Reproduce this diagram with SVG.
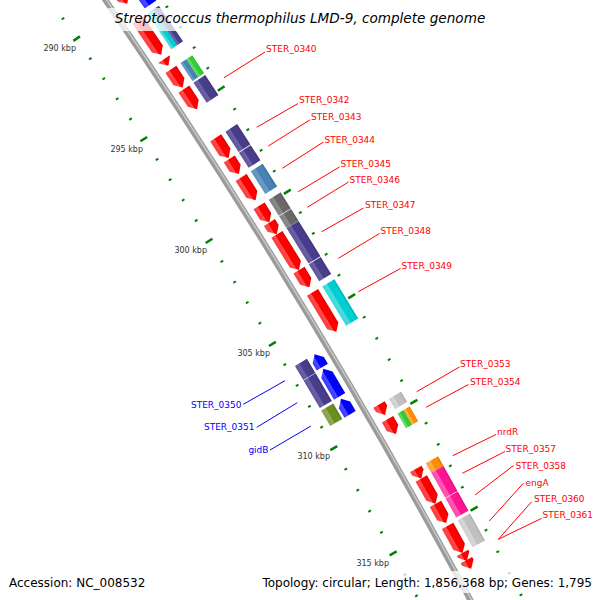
<svg xmlns="http://www.w3.org/2000/svg" xmlns:xlink="http://www.w3.org/1999/xlink" width="600" height="600" viewBox="0 0 600 600">
<style>
.lbl{font-family:"DejaVu Sans",sans-serif;font-size:9px}
.fw{fill:#ff0000}
.rv{fill:#0000ff}
.kbp{font-family:"DejaVu Sans",sans-serif;font-size:8px;fill:#333}
.lnf{stroke:#ff0000;stroke-width:1;fill:none}
.lnr{stroke:#0000ff;stroke-width:1;fill:none}
.tk{stroke:#008000;stroke-width:2;fill:none}
.tkM{stroke:#008000;stroke-width:2.5;fill:none}
.info{font-family:"DejaVu Sans",sans-serif;font-size:12px;fill:#000}
</style>
<defs>
<linearGradient id="gR" x1="0" y1="0" x2="0" y2="1"><stop offset="0" stop-color="#d40000"/><stop offset=".15" stop-color="#f00"/><stop offset=".6" stop-color="#f00"/><stop offset=".66" stop-color="#ff4d4d"/><stop offset="1" stop-color="#ff3838"/></linearGradient>
<linearGradient id="gB" x1="0" y1="0" x2="0" y2="1"><stop offset="0" stop-color="#0000d0"/><stop offset=".15" stop-color="#00f"/><stop offset=".6" stop-color="#00f"/><stop offset=".66" stop-color="#4d4dff"/><stop offset="1" stop-color="#3838ff"/></linearGradient>
<linearGradient id="gP" x1="0" y1="0" x2="0" y2="1"><stop offset="0" stop-color="#3a3172"/><stop offset=".15" stop-color="#483d8b"/><stop offset=".6" stop-color="#483d8b"/><stop offset=".66" stop-color="#6b62a6"/><stop offset="1" stop-color="#5e559c"/></linearGradient>
<linearGradient id="gS" x1="0" y1="0" x2="0" y2="1"><stop offset="0" stop-color="#396a93"/><stop offset=".15" stop-color="#4682b4"/><stop offset=".6" stop-color="#4682b4"/><stop offset=".66" stop-color="#6b9cc5"/><stop offset="1" stop-color="#5e93be"/></linearGradient>
<linearGradient id="gD" x1="0" y1="0" x2="0" y2="1"><stop offset="0" stop-color="#565656"/><stop offset=".15" stop-color="#696969"/><stop offset=".6" stop-color="#696969"/><stop offset=".66" stop-color="#8c8c8c"/><stop offset="1" stop-color="#808080"/></linearGradient>
<linearGradient id="gL" x1="0" y1="0" x2="0" y2="1"><stop offset="0" stop-color="#a6a6a6"/><stop offset=".15" stop-color="#c0c0c0"/><stop offset=".6" stop-color="#c0c0c0"/><stop offset=".66" stop-color="#d6d6d6"/><stop offset="1" stop-color="#cfcfcf"/></linearGradient>
<linearGradient id="gC" x1="0" y1="0" x2="0" y2="1"><stop offset="0" stop-color="#00a9ac"/><stop offset=".15" stop-color="#00ced1"/><stop offset=".6" stop-color="#00ced1"/><stop offset=".66" stop-color="#4ddcde"/><stop offset="1" stop-color="#38d8da"/></linearGradient>
<linearGradient id="gG" x1="0" y1="0" x2="0" y2="1"><stop offset="0" stop-color="#29a829"/><stop offset=".15" stop-color="#32cd32"/><stop offset=".6" stop-color="#32cd32"/><stop offset=".66" stop-color="#66da66"/><stop offset="1" stop-color="#55d655"/></linearGradient>
<linearGradient id="gO" x1="0" y1="0" x2="0" y2="1"><stop offset="0" stop-color="#d17300"/><stop offset=".15" stop-color="#ff8c00"/><stop offset=".6" stop-color="#ff8c00"/><stop offset=".66" stop-color="#ffab4d"/><stop offset="1" stop-color="#ffa238"/></linearGradient>
<linearGradient id="gM" x1="0" y1="0" x2="0" y2="1"><stop offset="0" stop-color="#d11079"/><stop offset=".15" stop-color="#ff1493"/><stop offset=".6" stop-color="#ff1493"/><stop offset=".66" stop-color="#ff5bb3"/><stop offset="1" stop-color="#ff4aab"/></linearGradient>
<linearGradient id="gV" x1="0" y1="0" x2="0" y2="1"><stop offset="0" stop-color="#58741d"/><stop offset=".15" stop-color="#6b8e23"/><stop offset=".6" stop-color="#6b8e23"/><stop offset=".66" stop-color="#8fa95c"/><stop offset="1" stop-color="#85a24e"/></linearGradient>
<path id="ti" class="tk" d="M0,-6456V-6453"/>
<path id="tI" class="tkM" d="M0,-6458.5V-6450.5"/>
<path id="to" class="tk" d="M0,-6548.5V-6545.5"/>
<path id="tO" class="tkM" d="M0,-6551V-6543"/>
</defs>
<rect width="600" height="600" fill="#fff"/>
<g id="map" transform="translate(-5257.3 3673.1)">
<g id="backbone">
<path d="M5324.5,-3728.3A6500,6500 0 0 1 5765.6,-3001.4" stroke="#9a9a9a" stroke-width="6" fill="none"/>
<path d="M5325.3,-3728.8A6501,6501 0 0 1 5766.5,-3001.9" stroke="#c6c6c6" stroke-width="1.6" fill="none"/>
</g>
<g id="ruler">
<use href="#ti" transform="rotate(55.515)"/><use href="#tI" transform="rotate(55.730)"/><use href="#ti" transform="rotate(55.945)"/><use href="#ti" transform="rotate(56.159)"/><use href="#ti" transform="rotate(56.374)"/><use href="#ti" transform="rotate(56.589)"/><use href="#tI" transform="rotate(56.803)"/><use href="#ti" transform="rotate(57.018)"/><use href="#ti" transform="rotate(57.232)"/><use href="#ti" transform="rotate(57.447)"/><use href="#ti" transform="rotate(57.662)"/><use href="#tI" transform="rotate(57.876)"/><use href="#ti" transform="rotate(58.091)"/><use href="#ti" transform="rotate(58.306)"/><use href="#ti" transform="rotate(58.520)"/><use href="#ti" transform="rotate(58.735)"/><use href="#tI" transform="rotate(58.950)"/><use href="#ti" transform="rotate(59.164)"/><use href="#ti" transform="rotate(59.379)"/><use href="#ti" transform="rotate(59.594)"/><use href="#ti" transform="rotate(59.808)"/><use href="#tI" transform="rotate(60.023)"/><use href="#ti" transform="rotate(60.238)"/><use href="#ti" transform="rotate(60.452)"/><use href="#ti" transform="rotate(60.667)"/><use href="#ti" transform="rotate(60.882)"/><use href="#tI" transform="rotate(61.096)"/><use href="#ti" transform="rotate(61.311)"/><use href="#ti" transform="rotate(61.526)"/>
<use href="#to" transform="rotate(55.945)"/><use href="#to" transform="rotate(56.159)"/><use href="#to" transform="rotate(56.374)"/><use href="#to" transform="rotate(56.589)"/><use href="#tO" transform="rotate(56.803)"/><use href="#to" transform="rotate(57.018)"/><use href="#to" transform="rotate(57.232)"/><use href="#to" transform="rotate(57.447)"/><use href="#to" transform="rotate(57.662)"/><use href="#tO" transform="rotate(57.876)"/><use href="#to" transform="rotate(58.091)"/><use href="#to" transform="rotate(58.306)"/><use href="#to" transform="rotate(58.520)"/><use href="#to" transform="rotate(58.735)"/><use href="#tO" transform="rotate(58.950)"/><use href="#to" transform="rotate(59.164)"/><use href="#to" transform="rotate(59.379)"/><use href="#to" transform="rotate(59.594)"/><use href="#to" transform="rotate(59.808)"/><use href="#tO" transform="rotate(60.023)"/><use href="#to" transform="rotate(60.238)"/><use href="#to" transform="rotate(60.452)"/><use href="#to" transform="rotate(60.667)"/><use href="#to" transform="rotate(60.882)"/><use href="#tO" transform="rotate(61.096)"/><use href="#to" transform="rotate(61.311)"/><use href="#to" transform="rotate(61.526)"/><use href="#to" transform="rotate(61.740)"/><use href="#to" transform="rotate(61.955)"/>
</g>
<g id="features">
<g id="gene_t1" transform="rotate(54.971) translate(0 -6500)"><path fill="url(#gR)" d="M0,-22H79L86,-15.5L79,-9H0Z"/><rect fill="url(#gB)" x="0" y="-41" width="100" height="14"/></g>
<g id="gene_t2" transform="rotate(55.897) translate(0 -6500)"><path fill="url(#gR)" d="M0,-22H35L42,-15.5L35,-9H0Z"/><rect fill="url(#gC)" x="0" y="-34" width="43" height="7"/><rect fill="url(#gP)" x="0" y="-41" width="43" height="7"/></g>
<g id="gene_t3" transform="rotate(56.311) translate(0 -6500)"><path fill="url(#gR)" d="M0,-22H1L8,-15.5L1,-9H0Z"/></g>
<g id="gene_a" transform="rotate(56.421) translate(0 -6500)"><path fill="url(#gR)" d="M0,-22H14.5L21.5,-15.5L14.5,-9H0Z"/><rect fill="url(#gS)" x="0" y="-34" width="21.5" height="7"/><rect fill="url(#gG)" x="0" y="-41" width="21.5" height="7"/></g>
<g id="STER_0340" transform="rotate(56.628) translate(0 -6500)"><path fill="url(#gR)" d="M0,-22H17L24,-15.5L17,-9H0Z"/><rect fill="url(#gP)" x="0" y="-41" width="24" height="14"/></g>
<g id="STER_0342" transform="rotate(57.140) translate(0 -6500)"><path fill="url(#gR)" d="M0,-22H17L24,-15.5L17,-9H0Z"/><rect fill="url(#gP)" x="0" y="-41" width="24.4" height="14"/></g>
<g id="STER_0343" transform="rotate(57.360) translate(0 -6500)"><path fill="url(#gR)" d="M0,-22H11L18,-15.5L11,-9H0Z"/><rect fill="url(#gP)" x="0" y="-41" width="18" height="14"/></g>
<g id="STER_0344" transform="rotate(57.554) translate(0 -6500)"><path fill="url(#gR)" d="M0,-22H20L27,-15.5L20,-9H0Z"/><rect fill="url(#gS)" x="0" y="-41" width="27" height="14"/></g>
<g id="STER_0345" transform="rotate(57.849) translate(0 -6500)"><path fill="url(#gR)" d="M0,-22H12.5L19.5,-15.5L12.5,-9H0Z"/><rect fill="url(#gD)" x="0" y="-41" width="19" height="14"/></g>
<g id="STER_0346" transform="rotate(58.021) translate(0 -6500)"><path fill="url(#gR)" d="M0,-22H7L14,-15.5L7,-9H0Z"/><rect fill="url(#gD)" x="0" y="-41" width="14" height="14"/></g>
<g id="STER_0347" transform="rotate(58.145) translate(0 -6500)"><path fill="url(#gR)" d="M0,-22H35L42,-15.5L35,-9H0Z"/><rect fill="url(#gP)" x="0" y="-41" width="41.5" height="14"/></g>
<g id="STER_0348" transform="rotate(58.515) translate(0 -6500)"><path fill="url(#gR)" d="M0,-22H13L20,-15.5L13,-9H0Z"/><rect fill="url(#gP)" x="0" y="-41" width="20" height="14"/></g>
<g id="STER_0349" transform="rotate(58.744) translate(0 -6500)"><path fill="url(#gR)" d="M0,-22H39L46,-15.5L39,-9H0Z"/><rect fill="url(#gC)" x="0" y="-41" width="46" height="14"/></g>
<g id="STER_0350" transform="rotate(59.220) translate(0 -6500)"><path fill="url(#gB)" d="M0,14.5L7,8H15V21H7Z"/><rect fill="url(#gP)" x="0" y="23.5" width="16.4" height="14"/></g>
<g id="STER_0351" transform="rotate(59.370) translate(0 -6500)"><path fill="url(#gB)" d="M0,14.5L7,8H32V21H7Z"/><rect fill="url(#gP)" x="0" y="23.5" width="32" height="14"/></g>
<g id="gidB" transform="rotate(59.678) translate(0 -6500)"><path fill="url(#gB)" d="M0,14.5L7,8H18V21H7Z"/><rect fill="url(#gV)" x="0" y="23.5" width="18" height="14"/></g>
<g id="STER_0353" transform="rotate(59.890) translate(0 -6500)"><path fill="url(#gR)" d="M0,-22H5L12,-15.5L5,-9H0Z"/><rect fill="url(#gL)" x="0" y="-41" width="12" height="14"/></g>
<g id="STER_0354" transform="rotate(60.040) translate(0 -6500)"><path fill="url(#gR)" d="M0,-22H10L17,-15.5L10,-9H0Z"/><rect fill="url(#gG)" x="0" y="-34" width="17" height="7"/><rect fill="url(#gO)" x="0" y="-41" width="17" height="7"/></g>
<g id="nrdR" transform="rotate(60.542) translate(0 -6500)"><path fill="url(#gR)" d="M0,-22H4L11,-15.5L4,-9H0Z"/><rect fill="url(#gO)" x="0" y="-41" width="11" height="14"/></g>
<g id="STER_0357" transform="rotate(60.639) translate(0 -6500)"><path fill="url(#gR)" d="M0,-22H22L29,-15.5L22,-9H0Z"/><rect fill="url(#gM)" x="0" y="-41" width="28.6" height="14"/></g>
<g id="STER_0358" transform="rotate(60.895) translate(0 -6500)"><path fill="url(#gR)" d="M0,-22H15L22,-15.5L15,-9H0Z"/><rect fill="url(#gM)" x="0" y="-41" width="22" height="14"/></g>
<g id="engA" transform="rotate(61.115) translate(0 -6500)"><path fill="url(#gR)" d="M0,-22H24L31,-15.5L24,-9H0Z"/><rect fill="url(#gL)" x="0" y="-41" width="31" height="14"/></g>
<g id="STER_0360" transform="rotate(61.388) translate(0 -6500)"><path fill="url(#gR)" d="M0,-22H2L9,-15.5L2,-9H0Z"/></g>
<g id="STER_0361" transform="rotate(61.459) translate(0 -6500)"><path fill="url(#gR)" d="M0,-22H3L10,-15.5L3,-9H0Z"/></g>
</g>
</g>
<g id="connectors">
<path class="lnf" d="M224,77.7L265,52"/>
<path class="lnf" d="M256.7,127.3L298,103.5"/>
<path class="lnf" d="M268.3,146L310,119.8"/>
<path class="lnf" d="M282.3,168.3L323.5,142"/>
<path class="lnf" d="M298.3,191.7L339.5,167"/>
<path class="lnf" d="M307.3,207.3L348.5,182"/>
<path class="lnf" d="M321.7,231.7L363.5,208"/>
<path class="lnf" d="M338.3,258.3L379.5,233.5"/>
<path class="lnf" d="M358.3,291.7L400.5,268.5"/>
<path class="lnf" d="M416.7,391.7L459.5,367"/>
<path class="lnf" d="M426,407.3L468.5,384.5"/>
<path class="lnf" d="M452.7,455.7L496,434.5"/>
<path class="lnf" d="M462.3,473.3L505,451.5"/>
<path class="lnf" d="M475,495L513.5,465.5"/>
<path class="lnf" d="M489.3,521L523.3,483.3"/>
<path class="lnf" d="M498.3,539.3L531.7,501.7"/>
<path class="lnf" d="M498.3,539.3L541.7,518.3"/>
<path class="lnr" d="M285,380.7L243.3,404.3"/>
<path class="lnr" d="M297.3,402.7L256.7,427.3"/>
<path class="lnr" d="M311,426L270,450"/>
</g>
<g id="labels">
<text class="lbl fw" x="266" y="51.5">STER_0340</text>
<text class="lbl fw" x="299" y="103">STER_0342</text>
<text class="lbl fw" x="311" y="120">STER_0343</text>
<text class="lbl fw" x="324.5" y="142.5">STER_0344</text>
<text class="lbl fw" x="340.5" y="167">STER_0345</text>
<text class="lbl fw" x="349.5" y="182.5">STER_0346</text>
<text class="lbl fw" x="365" y="207.5">STER_0347</text>
<text class="lbl fw" x="380.5" y="234">STER_0348</text>
<text class="lbl fw" x="401.5" y="268.5">STER_0349</text>
<text class="lbl fw" x="460" y="367">STER_0353</text>
<text class="lbl fw" x="470" y="385">STER_0354</text>
<text class="lbl fw" x="497" y="434.5">nrdR</text>
<text class="lbl fw" x="505.5" y="451.5">STER_0357</text>
<text class="lbl fw" x="515.5" y="468.5">STER_0358</text>
<text class="lbl fw" x="525.5" y="486">engA</text>
<text class="lbl fw" x="534" y="502">STER_0360</text>
<text class="lbl fw" x="542.5" y="518">STER_0361</text>
<text class="lbl rv" x="241.5" y="407.5" text-anchor="end">STER_0350</text>
<text class="lbl rv" x="254.5" y="430" text-anchor="end">STER_0351</text>
<text class="lbl rv" x="268.5" y="452.5" text-anchor="end">gidB</text>
</g>
<g id="kbp-labels" text-anchor="end">
<text class="kbp" x="76" y="51">290 kbp</text>
<text class="kbp" x="143" y="152">295 kbp</text>
<text class="kbp" x="207" y="253">300 kbp</text>
<text class="kbp" x="270" y="355.5">305 kbp</text>
<text class="kbp" x="330" y="459">310 kbp</text>
<text class="kbp" x="389" y="566">315 kbp</text>
</g>
<g id="title">
<rect x="108" y="8" width="384" height="23" fill="#fff" fill-opacity="0.75"/>
<text x="300" y="23" text-anchor="middle" font-family="DejaVu Sans, sans-serif" font-style="italic" font-size="13.6">Streptococcus thermophilus LMD-9, complete genome</text>
</g>
<g id="info">
<rect x="257" y="571" width="340" height="22" fill="#fff" fill-opacity="0.75"/>
<text class="info" x="9" y="587">Accession: NC_008532</text>
<text class="info" x="592" y="587" text-anchor="end">Topology: circular; Length: 1,856,368 bp; Genes: 1,795</text>
</g>
</svg>
